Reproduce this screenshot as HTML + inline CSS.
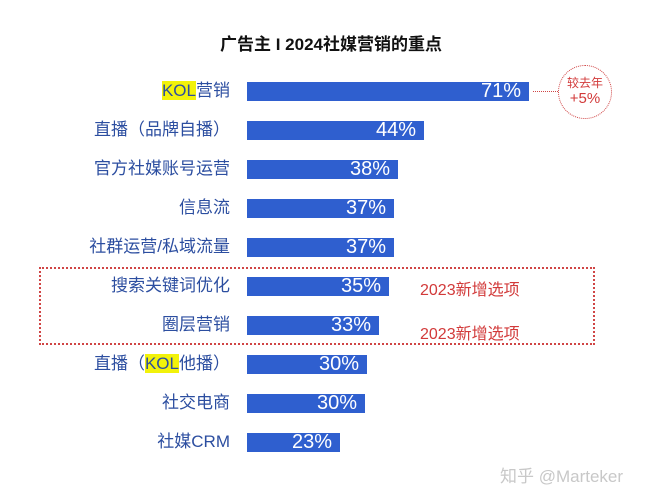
<!DOCTYPE html>
<html><head><meta charset="utf-8"><style>
body{margin:0;width:662px;height:500px;background:#fff;position:relative;overflow:hidden;font-family:"Liberation Sans","Noto Sans CJK SC",sans-serif}
.t{position:absolute;left:0;width:662px;top:30px;text-align:center;font-weight:bold;font-size:17px;color:#111}
.l{position:absolute;right:432px;font-size:17px;color:#2c4ea0;white-space:nowrap;line-height:20px}
.l b{font-weight:normal;background:#f2f20a;color:#2c4ea0}
.b{position:absolute;left:247px;height:19px;background:#2f5fcf;color:#fff;font-size:20px;line-height:19px;text-align:right;box-sizing:border-box;padding-right:8px}
.r{position:absolute;left:420px;font-size:16px;color:#d23a3a}
</style></head><body>
<div class="t">广告主 I 2024社媒营销的重点</div>
<div class="l" style="top:81px"><b>KOL</b>营销</div><div class="b" style="top:82px;width:282px">71%</div>
<div class="l" style="top:120px">直播（品牌自播）</div><div class="b" style="top:121px;width:177px">44%</div>
<div class="l" style="top:159px">官方社媒账号运营</div><div class="b" style="top:160px;width:151px">38%</div>
<div class="l" style="top:198px">信息流</div><div class="b" style="top:199px;width:147px">37%</div>
<div class="l" style="top:237px">社群运营/私域流量</div><div class="b" style="top:238px;width:147px">37%</div>
<div class="l" style="top:276px">搜索关键词优化</div><div class="b" style="top:277px;width:142px">35%</div>
<div class="l" style="top:315px">圈层营销</div><div class="b" style="top:316px;width:132px">33%</div>
<div class="l" style="top:354px">直播（<b>KOL</b>他播）</div><div class="b" style="top:355px;width:120px">30%</div>
<div class="l" style="top:393px">社交电商</div><div class="b" style="top:394px;width:118px">30%</div>
<div class="l" style="top:432px">社媒CRM</div><div class="b" style="top:433px;width:93px">23%</div>
<div class="r" style="top:276px">2023新增选项</div>
<div class="r" style="top:320px">2023新增选项</div>
<div style="position:absolute;left:39px;top:267px;width:556px;height:78px;border:2px dotted #d04545;box-sizing:border-box"></div>
<div style="position:absolute;left:533px;top:91px;width:25px;border-top:1px dotted #d04545"></div>
<div style="position:absolute;left:558px;top:65px;width:54px;height:54px;border:1px dotted #d04545;border-radius:50%;box-sizing:border-box;text-align:center;color:#d23a3a;font-size:12px;line-height:15px;padding-top:10px">较去年<br><span style="font-size:15px">+5%</span></div>
<div style="position:absolute;left:500px;top:462px;font-size:17px;color:#c8c8c8">知乎 @Marteker</div>
</body></html>
